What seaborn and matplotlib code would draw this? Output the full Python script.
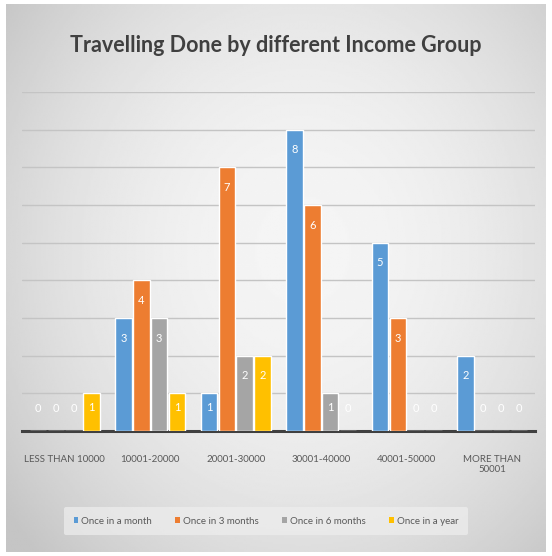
import numpy as np
import pandas as pd
import matplotlib
matplotlib.use("Agg")
import matplotlib.pyplot as plt
from matplotlib.patches import Patch
import seaborn as sns

# Survey counts per income group
income_groups = ["LESS THAN 10000", "10001-20000", "20001-30000",
                 "30001-40000", "40001-50000", "MORE THAN\n50001"]
frequencies = ["Once in a month", "Once in 3 months", "Once in 6 months", "Once in a year"]
once_in_a_month = [0, 3, 1, 8, 5, 2]
once_in_3_months = [0, 4, 7, 6, 3, 0]
once_in_6_months = [0, 3, 2, 1, 0, 0]
once_in_a_year = [1, 1, 2, 0, 0, 0]
palette = ["#5B9BD5", "#ED7D31", "#A5A5A5", "#FFC000"]

series = [once_in_a_month, once_in_3_months, once_in_6_months, once_in_a_year]
df = pd.DataFrame({
    "group": [g for _ in frequencies for g in income_groups],
    "freq": [f for f in frequencies for _ in income_groups],
    "count": [v for s in series for v in s],
})

sns.set_theme(style="white")
plt.rcParams["font.family"] = ["Lato", "DejaVu Sans"]

W, H = 552, 556
fig = plt.figure(figsize=(W / 100, H / 100), dpi=100)
fig.patch.set_facecolor("white")

# soft radial gradient behind the chart
bg = fig.add_axes([6 / W, 4 / H, 540 / W, 548 / H], zorder=-5)
yy, xx = np.mgrid[0:1:300j, 0:1:300j]
r2 = ((xx - 0.55) / 0.75) ** 2 + ((yy - 0.45) / 0.85) ** 2
shade = np.clip(0.96 - 0.22 * r2, 0.77, 1.0)
bg.imshow(shade, cmap="gray", vmin=0, vmax=1, aspect="auto", extent=[0, 1, 0, 1])
bg.axis("off")

ax = fig.add_axes([22 / W, (H - 431) / H, 513 / W, 339 / H])
ax.patch.set_alpha(0)
sns.barplot(data=df, x="group", y="count", hue="freq", hue_order=frequencies,
            order=income_groups, palette=palette, width=0.84, gap=0.08,
            saturation=1, ax=ax, legend=False, zorder=3)

ax.set_ylim(0, 9)
ax.set_xlim(-0.5, 5.5)
ax.set_yticks(range(0, 10))
ax.yaxis.grid(True, color="#c4c4c4", lw=1.0, zorder=0)
ax.set_axisbelow(True)
ax.tick_params(axis="y", left=False, labelleft=False)
ax.tick_params(axis="x", bottom=False, labelsize=7, labelcolor="#595959", pad=11)
for s in ["top", "left", "right"]:
    ax.spines[s].set_visible(False)
ax.spines["bottom"].set_color("#404040")
ax.spines["bottom"].set_linewidth(2.2)
ax.set_xlabel("")
ax.set_ylabel("")

# value labels inside the bar ends
for cont in ax.containers:
    for bar in cont:
        v = bar.get_height()
        cx = bar.get_x() + bar.get_width() / 2
        off = 22 if v == 0 else (-14 if v == 1 else -20)
        ax.annotate(f"{int(v)}", xy=(cx, v), xytext=(0, off), textcoords="offset pixels",
                    ha="center", va="center", color="white", fontsize=8, zorder=5)

fig.text(0.5, (H - 45) / H, "Travelling Done by different Income Group",
         ha="center", va="center", fontsize=15.5, color="#404040", fontweight="bold")

handles = [Patch(facecolor=c, edgecolor="none") for c in palette]
leg = fig.legend(handles, frequencies, loc="center", bbox_to_anchor=(266 / W, (H - 521) / H),
                 ncol=4, frameon=True, fontsize=7, handlelength=0.5, handleheight=0.5,
                 handletextpad=0.3, columnspacing=2.4, borderpad=1.0)
leg.get_frame().set_facecolor("#eeeeee")
leg.get_frame().set_edgecolor("none")
leg.get_frame().set_alpha(0.7)
for t in leg.get_texts():
    t.set_color("#595959")

fig.savefig("out.png", dpi=100)
